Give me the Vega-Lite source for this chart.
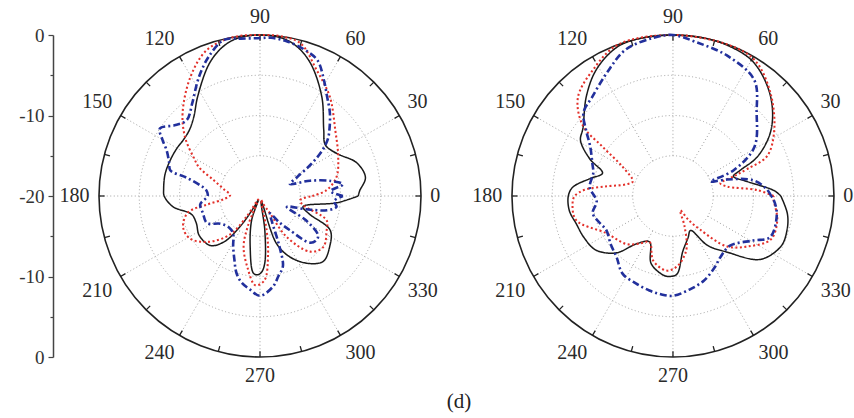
{
  "$schema": "https://vega.github.io/schema/vega-lite/v6.json",
  "width": 854,
  "height": 418,
  "autosize": {"type": "none"},
  "padding": 0,
  "background": "white",
  "config": {"view": {"stroke": null}, "font": "Liberation Serif"},
  "title": {"text": "(d)", "orient": "bottom", "anchor": "middle", "frame": "group", "offset": -27, "dx": 32, "font": "Liberation Serif", "fontSize": 21, "fontWeight": "normal", "color": "#222"},
  "datasets": {
    "rings": [{"p": "L", "ring": 0.25}, {"p": "L", "ring": 0.5}, {"p": "L", "ring": 0.75}, {"p": "L", "ring": 1}, {"p": "R", "ring": 0.25}, {"p": "R", "ring": 0.5}, {"p": "R", "ring": 0.75}, {"p": "R", "ring": 1}],
    "angles": [
      {"a": 0, "p": ["L", "R"]}, {"a": 15, "p": ["L", "R"]}, {"a": 30, "p": ["L", "R"]}, {"a": 45, "p": ["L", "R"]}, {"a": 60, "p": ["L", "R"]}, {"a": 75, "p": ["L", "R"]},
      {"a": 90, "p": ["L", "R"]}, {"a": 105, "p": ["L", "R"]}, {"a": 120, "p": ["L", "R"]}, {"a": 135, "p": ["L", "R"]}, {"a": 150, "p": ["L", "R"]}, {"a": 165, "p": ["L", "R"]},
      {"a": 180, "p": ["L", "R"]}, {"a": 195, "p": ["L", "R"]}, {"a": 210, "p": ["L", "R"]}, {"a": 225, "p": ["L", "R"]}, {"a": 240, "p": ["L", "R"]}, {"a": 255, "p": ["L", "R"]},
      {"a": 270, "p": ["L", "R"]}, {"a": 285, "p": ["L", "R"]}, {"a": 300, "p": ["L", "R"]}, {"a": 315, "p": ["L", "R"]}, {"a": 330, "p": ["L", "R"]}, {"a": 345, "p": ["L", "R"]}
    ],
    "curves": [
      {"p":"L","s":"k","a":0,"db":-7.8},{"p":"L","s":"k","a":3,"db":-7.6},{"p":"L","s":"k","a":10,"db":-6.7},{"p":"L","s":"k","a":19,"db":-7.3},{"p":"L","s":"k","a":29,"db":-9.1},{"p":"L","s":"k","a":38,"db":-9.7},{"p":"L","s":"k","a":46,"db":-8.6},{"p":"L","s":"k","a":58,"db":-5.5},{"p":"L","s":"k","a":69,"db":-2.4},{"p":"L","s":"k","a":76,"db":-0.9},{"p":"L","s":"k","a":82,"db":-0.2},{"p":"L","s":"k","a":90,"db":0},{"p":"L","s":"k","a":98,"db":-0.2},{"p":"L","s":"k","a":104,"db":-0.9},{"p":"L","s":"k","a":111,"db":-2.4},{"p":"L","s":"k","a":122,"db":-5.4},{"p":"L","s":"k","a":130,"db":-7.2},{"p":"L","s":"k","a":137,"db":-8.0},{"p":"L","s":"k","a":144,"db":-8.2},{"p":"L","s":"k","a":150,"db":-8.1},{"p":"L","s":"k","a":158,"db":-8.0},{"p":"L","s":"k","a":167,"db":-7.9},{"p":"L","s":"k","a":176,"db":-8.0},{"p":"L","s":"k","a":180,"db":-8.1},{"p":"L","s":"k","a":187,"db":-9.1},{"p":"L","s":"k","a":195,"db":-11.2},{"p":"L","s":"k","a":203,"db":-11.4},{"p":"L","s":"k","a":213,"db":-11.0},{"p":"L","s":"k","a":225,"db":-11.3},{"p":"L","s":"k","a":232,"db":-12.8},{"p":"L","s":"k","a":237,"db":-15.5},{"p":"L","s":"k","a":242,"db":-18.5},{"p":"L","s":"k","a":247,"db":-19.5},{"p":"L","s":"k","a":251,"db":-16.8},{"p":"L","s":"k","a":259,"db":-13.6},{"p":"L","s":"k","a":265,"db":-10.4},{"p":"L","s":"k","a":268,"db":-10.2},{"p":"L","s":"k","a":271,"db":-10.5},{"p":"L","s":"k","a":274,"db":-11.6},{"p":"L","s":"k","a":278,"db":-15.7},{"p":"L","s":"k","a":283,"db":-19.3},{"p":"L","s":"k","a":289,"db":-13.8},{"p":"L","s":"k","a":296,"db":-11.6},{"p":"L","s":"k","a":305,"db":-9.8},{"p":"L","s":"k","a":314,"db":-8.7},{"p":"L","s":"k","a":324,"db":-9.3},{"p":"L","s":"k","a":334,"db":-10.3},{"p":"L","s":"k","a":340,"db":-13.5},{"p":"L","s":"k","a":346,"db":-14.5},{"p":"L","s":"k","a":355,"db":-10.4},{"p":"L","s":"k","a":360,"db":-7.8},

      {"p":"L","s":"r","a":0,"db":-13.5},{"p":"L","s":"r","a":5,"db":-11.7},{"p":"L","s":"r","a":14,"db":-10.2},{"p":"L","s":"r","a":27,"db":-9.1},{"p":"L","s":"r","a":41,"db":-7.6},{"p":"L","s":"r","a":55,"db":-4.9},{"p":"L","s":"r","a":66,"db":-2.8},{"p":"L","s":"r","a":75,"db":-0.4},{"p":"L","s":"r","a":82,"db":0},{"p":"L","s":"r","a":90,"db":0},{"p":"L","s":"r","a":100,"db":0},{"p":"L","s":"r","a":110,"db":-0.7},{"p":"L","s":"r","a":120,"db":-2.8},{"p":"L","s":"r","a":133,"db":-5.9},{"p":"L","s":"r","a":142,"db":-8.2},{"p":"L","s":"r","a":150,"db":-10.5},{"p":"L","s":"r","a":155,"db":-11.7},{"p":"L","s":"r","a":161,"db":-13.9},{"p":"L","s":"r","a":170,"db":-15.5},{"p":"L","s":"r","a":178,"db":-16.3},{"p":"L","s":"r","a":185,"db":-15.5},{"p":"L","s":"r","a":189,"db":-13.5},{"p":"L","s":"r","a":193,"db":-10.8},{"p":"L","s":"r","a":202,"db":-9.7},{"p":"L","s":"r","a":211,"db":-9.8},{"p":"L","s":"r","a":221,"db":-11.3},{"p":"L","s":"r","a":232,"db":-13.9},{"p":"L","s":"r","a":237,"db":-17},{"p":"L","s":"r","a":243,"db":-19.5},{"p":"L","s":"r","a":248,"db":-16},{"p":"L","s":"r","a":252,"db":-13.4},{"p":"L","s":"r","a":260,"db":-11.0},{"p":"L","s":"r","a":267,"db":-8.9},{"p":"L","s":"r","a":273,"db":-9.5},{"p":"L","s":"r","a":278,"db":-12.8},{"p":"L","s":"r","a":281,"db":-15.7},{"p":"L","s":"r","a":286,"db":-19.5},{"p":"L","s":"r","a":292,"db":-19},{"p":"L","s":"r","a":300,"db":-17.5},{"p":"L","s":"r","a":303,"db":-14},{"p":"L","s":"r","a":312,"db":-10.7},{"p":"L","s":"r","a":321,"db":-9.9},{"p":"L","s":"r","a":333,"db":-10.7},{"p":"L","s":"r","a":340,"db":-11.2},{"p":"L","s":"r","a":348,"db":-14.5},{"p":"L","s":"r","a":354,"db":-15},{"p":"L","s":"r","a":360,"db":-13.5},

      {"p":"L","s":"b","a":0,"db":-9.7},{"p":"L","s":"b","a":4,"db":-11.2},{"p":"L","s":"b","a":8,"db":-9.6},{"p":"L","s":"b","a":12,"db":-11},{"p":"L","s":"b","a":17,"db":-13.5},{"p":"L","s":"b","a":22,"db":-16},{"p":"L","s":"b","a":27,"db":-14.8},{"p":"L","s":"b","a":32,"db":-12.5},{"p":"L","s":"b","a":36,"db":-10.5},{"p":"L","s":"b","a":40,"db":-9},{"p":"L","s":"b","a":44,"db":-8.0},{"p":"L","s":"b","a":50,"db":-6.5},{"p":"L","s":"b","a":56,"db":-5.1},{"p":"L","s":"b","a":61,"db":-3.6},{"p":"L","s":"b","a":67,"db":-1.7},{"p":"L","s":"b","a":73,"db":-1.0},{"p":"L","s":"b","a":80,"db":-0.5},{"p":"L","s":"b","a":86,"db":-0.3},{"p":"L","s":"b","a":91,"db":-0.4},{"p":"L","s":"b","a":97,"db":-0.3},{"p":"L","s":"b","a":103,"db":-0.1},{"p":"L","s":"b","a":110,"db":-1.5},{"p":"L","s":"b","a":115,"db":-2.8},{"p":"L","s":"b","a":119,"db":-3.9},{"p":"L","s":"b","a":126,"db":-5.7},{"p":"L","s":"b","a":134,"db":-6.9},{"p":"L","s":"b","a":140,"db":-6.3},{"p":"L","s":"b","a":146,"db":-5.0},{"p":"L","s":"b","a":150,"db":-6},{"p":"L","s":"b","a":154,"db":-7.1},{"p":"L","s":"b","a":160,"db":-8.0},{"p":"L","s":"b","a":164,"db":-8.4},{"p":"L","s":"b","a":166,"db":-10.6},{"p":"L","s":"b","a":170,"db":-12.5},{"p":"L","s":"b","a":174,"db":-13.3},{"p":"L","s":"b","a":180,"db":-13.5},{"p":"L","s":"b","a":188,"db":-12.5},{"p":"L","s":"b","a":197,"db":-12.6},{"p":"L","s":"b","a":207,"db":-12.6},{"p":"L","s":"b","a":215,"db":-14},{"p":"L","s":"b","a":225,"db":-14.5},{"p":"L","s":"b","a":234,"db":-14.3},{"p":"L","s":"b","a":242,"db":-12.9},{"p":"L","s":"b","a":248,"db":-11.5},{"p":"L","s":"b","a":253,"db":-10},{"p":"L","s":"b","a":258,"db":-9.0},{"p":"L","s":"b","a":264,"db":-8.3},{"p":"L","s":"b","a":270,"db":-7.6},{"p":"L","s":"b","a":278,"db":-8.6},{"p":"L","s":"b","a":283,"db":-9.8},{"p":"L","s":"b","a":288,"db":-10.8},{"p":"L","s":"b","a":291,"db":-13.2},{"p":"L","s":"b","a":295,"db":-16.5},{"p":"L","s":"b","a":300,"db":-17.5},{"p":"L","s":"b","a":306,"db":-16},{"p":"L","s":"b","a":311,"db":-14.4},{"p":"L","s":"b","a":317,"db":-11.5},{"p":"L","s":"b","a":322,"db":-11.1},{"p":"L","s":"b","a":326,"db":-11.3},{"p":"L","s":"b","a":332,"db":-13.5},{"p":"L","s":"b","a":338,"db":-16.4},{"p":"L","s":"b","a":344,"db":-14},{"p":"L","s":"b","a":348,"db":-11.5},{"p":"L","s":"b","a":352,"db":-10.4},{"p":"L","s":"b","a":356,"db":-10.8},{"p":"L","s":"b","a":360,"db":-9.7},

      {"p":"R","s":"k","a":0,"db":-6.6},{"p":"R","s":"k","a":3,"db":-7.4},{"p":"R","s":"k","a":11,"db":-10.6},{"p":"R","s":"k","a":18,"db":-12.1},{"p":"R","s":"k","a":21,"db":-11},{"p":"R","s":"k","a":25,"db":-8.4},{"p":"R","s":"k","a":34,"db":-5.3},{"p":"R","s":"k","a":46,"db":-2.6},{"p":"R","s":"k","a":59,"db":-0.6},{"p":"R","s":"k","a":70,"db":-0.1},{"p":"R","s":"k","a":80,"db":0},{"p":"R","s":"k","a":90,"db":0},{"p":"R","s":"k","a":100,"db":0},{"p":"R","s":"k","a":110,"db":-0.2},{"p":"R","s":"k","a":121,"db":-1.6},{"p":"R","s":"k","a":131,"db":-3.6},{"p":"R","s":"k","a":143,"db":-6.0},{"p":"R","s":"k","a":149,"db":-6.6},{"p":"R","s":"k","a":156,"db":-8.7},{"p":"R","s":"k","a":162,"db":-10.8},{"p":"R","s":"k","a":168,"db":-9.5},{"p":"R","s":"k","a":175,"db":-7.5},{"p":"R","s":"k","a":180,"db":-7.0},{"p":"R","s":"k","a":188,"db":-7.0},{"p":"R","s":"k","a":196,"db":-7.5},{"p":"R","s":"k","a":205,"db":-7.8},{"p":"R","s":"k","a":215,"db":-8.3},{"p":"R","s":"k","a":225,"db":-10},{"p":"R","s":"k","a":233,"db":-12.6},{"p":"R","s":"k","a":243,"db":-13.6},{"p":"R","s":"k","a":252,"db":-11.2},{"p":"R","s":"k","a":263,"db":-10.1},{"p":"R","s":"k","a":268,"db":-10},{"p":"R","s":"k","a":273,"db":-10.3},{"p":"R","s":"k","a":280,"db":-13},{"p":"R","s":"k","a":290,"db":-14.5},{"p":"R","s":"k","a":297,"db":-15.2},{"p":"R","s":"k","a":305,"db":-12.5},{"p":"R","s":"k","a":314,"db":-10.3},{"p":"R","s":"k","a":324,"db":-6.6},{"p":"R","s":"k","a":335,"db":-5.2},{"p":"R","s":"k","a":343,"db":-5.2},{"p":"R","s":"k","a":351,"db":-5.6},{"p":"R","s":"k","a":360,"db":-6.6},

      {"p":"R","s":"r","a":0,"db":-7.5},{"p":"R","s":"r","a":4,"db":-9.5},{"p":"R","s":"r","a":10,"db":-13.2},{"p":"R","s":"r","a":15,"db":-13.9},{"p":"R","s":"r","a":18,"db":-12},{"p":"R","s":"r","a":20,"db":-10.2},{"p":"R","s":"r","a":23,"db":-7.3},{"p":"R","s":"r","a":33,"db":-5},{"p":"R","s":"r","a":47,"db":-2.3},{"p":"R","s":"r","a":59,"db":-0.3},{"p":"R","s":"r","a":70,"db":0},{"p":"R","s":"r","a":90,"db":0},{"p":"R","s":"r","a":110,"db":0},{"p":"R","s":"r","a":122,"db":-1.4},{"p":"R","s":"r","a":134,"db":-3.0},{"p":"R","s":"r","a":142,"db":-5.8},{"p":"R","s":"r","a":145,"db":-9.3},{"p":"R","s":"r","a":150,"db":-12.8},{"p":"R","s":"r","a":160,"db":-14.7},{"p":"R","s":"r","a":166,"db":-14},{"p":"R","s":"r","a":172,"db":-11.5},{"p":"R","s":"r","a":176,"db":-9},{"p":"R","s":"r","a":180,"db":-7.8},{"p":"R","s":"r","a":184,"db":-7.5},{"p":"R","s":"r","a":194,"db":-7.6},{"p":"R","s":"r","a":209,"db":-10.5},{"p":"R","s":"r","a":226,"db":-11.7},{"p":"R","s":"r","a":235,"db":-12.8},{"p":"R","s":"r","a":243,"db":-13.6},{"p":"R","s":"r","a":253,"db":-11.6},{"p":"R","s":"r","a":265,"db":-10.7},{"p":"R","s":"r","a":273,"db":-11.2},{"p":"R","s":"r","a":280,"db":-12.3},{"p":"R","s":"r","a":285,"db":-13.4},{"p":"R","s":"r","a":291,"db":-16},{"p":"R","s":"r","a":297,"db":-18},{"p":"R","s":"r","a":303,"db":-16.5},{"p":"R","s":"r","a":309,"db":-14.6},{"p":"R","s":"r","a":317,"db":-10.8},{"p":"R","s":"r","a":326,"db":-8.8},{"p":"R","s":"r","a":336,"db":-6.7},{"p":"R","s":"r","a":347,"db":-6.7},{"p":"R","s":"r","a":358,"db":-7.5},{"p":"R","s":"r","a":360,"db":-7.5},

      {"p":"R","s":"b","a":0,"db":-7.8},{"p":"R","s":"b","a":4,"db":-8.3},{"p":"R","s":"b","a":11,"db":-9.8},{"p":"R","s":"b","a":17,"db":-13},{"p":"R","s":"b","a":21,"db":-15},{"p":"R","s":"b","a":23,"db":-11.8},{"p":"R","s":"b","a":31,"db":-8.2},{"p":"R","s":"b","a":45,"db":-5.3},{"p":"R","s":"b","a":55,"db":-2.4},{"p":"R","s":"b","a":69,"db":-1.3},{"p":"R","s":"b","a":81,"db":-0.7},{"p":"R","s":"b","a":90,"db":0},{"p":"R","s":"b","a":97,"db":-0.2},{"p":"R","s":"b","a":108,"db":-0.9},{"p":"R","s":"b","a":118,"db":-2.6},{"p":"R","s":"b","a":129,"db":-4.1},{"p":"R","s":"b","a":137,"db":-4.8},{"p":"R","s":"b","a":143,"db":-6.5},{"p":"R","s":"b","a":149,"db":-8},{"p":"R","s":"b","a":158,"db":-9.2},{"p":"R","s":"b","a":164,"db":-9.7},{"p":"R","s":"b","a":174,"db":-9.6},{"p":"R","s":"b","a":184,"db":-10.5},{"p":"R","s":"b","a":192,"db":-9.8},{"p":"R","s":"b","a":200,"db":-10.3},{"p":"R","s":"b","a":207,"db":-10.7},{"p":"R","s":"b","a":218,"db":-10.2},{"p":"R","s":"b","a":227,"db":-9.7},{"p":"R","s":"b","a":237,"db":-8.5},{"p":"R","s":"b","a":247,"db":-8.2},{"p":"R","s":"b","a":256,"db":-7.9},{"p":"R","s":"b","a":263,"db":-7.7},{"p":"R","s":"b","a":270,"db":-7.6},{"p":"R","s":"b","a":280,"db":-8.2},{"p":"R","s":"b","a":290,"db":-8.8},{"p":"R","s":"b","a":300,"db":-9.7},{"p":"R","s":"b","a":308,"db":-10.4},{"p":"R","s":"b","a":319,"db":-10.6},{"p":"R","s":"b","a":331,"db":-8.6},{"p":"R","s":"b","a":337,"db":-6.9},{"p":"R","s":"b","a":350,"db":-6.9},{"p":"R","s":"b","a":358,"db":-7.5},{"p":"R","s":"b","a":360,"db":-7.8}
    ]
  },
  "encoding": {
    "x": {"field": "x", "type": "quantitative", "scale": {"domain": [-1, 1], "range": [99, 421], "nice": false, "zero": false}, "axis": null},
    "y": {"field": "y", "type": "quantitative", "scale": {"domain": [-1, 1], "range": [357, 35], "nice": false, "zero": false},
      "axis": {"title": null, "offset": -53, "grid": false, "values": [-1, -0.75, -0.5, -0.25, 0, 0.25, 0.5, 0.75, 1],
        "labelExpr": "abs(datum.value*4)%2==1 ? '' : toString(20*abs(datum.value)-20)",
        "domainColor": "#444", "domainWidth": 1.5, "tickColor": "#444", "tickWidth": 1.2,
        "tickSize": {"condition": {"test": "abs(datum.value*4)%2==1", "value": 3}, "value": 5},
        "labelFont": "Liberation Serif", "labelFontSize": 19, "labelColor": "#333", "labelPadding": 4, "labelFlush": false, "labelOverlap": false}}
  },
  "layer": [
    {
      "data": {"name": "rings"},
      "transform": [{"filter": "datum.ring < 1"}, {"calculate": "datum.p == 'R' ? 2.565 : 0", "as": "x"}, {"calculate": "0", "as": "y"}],
      "mark": {"type": "point", "shape": "circle", "filled": false, "stroke": "#a0a0a0", "strokeWidth": 1, "strokeDash": [1, 2.5], "opacity": 1},
      "encoding": {"size": {"field": "ring", "type": "quantitative", "scale": {"type": "pow", "exponent": 2, "domain": [0, 1], "range": [0, 103684]}, "legend": null}}
    },
    {
      "data": {"name": "angles"},
      "transform": [{"flatten": ["p"]}, {"filter": "datum.a % 30 == 0"},
        {"calculate": "datum.p == 'R' ? 2.565 : 0", "as": "cx"},
        {"calculate": "datum.cx + 0.25*cos(datum.a*PI/180)", "as": "x"},
        {"calculate": "0.25*sin(datum.a*PI/180)", "as": "y"},
        {"calculate": "datum.cx + cos(datum.a*PI/180)", "as": "x2"},
        {"calculate": "sin(datum.a*PI/180)", "as": "y2"}],
      "mark": {"type": "rule", "stroke": "#a0a0a0", "strokeWidth": 1, "strokeDash": [1, 2.5]},
      "encoding": {"x2": {"field": "x2"}, "y2": {"field": "y2"}}
    },
    {
      "data": {"name": "rings"},
      "transform": [{"filter": "datum.ring == 1"}, {"calculate": "datum.p == 'R' ? 2.565 : 0", "as": "x"}, {"calculate": "0", "as": "y"}],
      "mark": {"type": "point", "shape": "circle", "filled": false, "stroke": "#222", "strokeWidth": 1.6, "opacity": 1},
      "encoding": {"size": {"field": "ring", "type": "quantitative", "scale": {"type": "pow", "exponent": 2, "domain": [0, 1], "range": [0, 103684]}, "legend": null}}
    },
    {
      "data": {"name": "angles"},
      "transform": [{"flatten": ["p"]},
        {"calculate": "datum.p == 'R' ? 2.565 : 0", "as": "cx"},
        {"calculate": "datum.cx + 0.965*cos(datum.a*PI/180)", "as": "x"},
        {"calculate": "0.965*sin(datum.a*PI/180)", "as": "y"},
        {"calculate": "datum.cx + cos(datum.a*PI/180)", "as": "x2"},
        {"calculate": "sin(datum.a*PI/180)", "as": "y2"}],
      "mark": {"type": "rule", "stroke": "#222", "strokeWidth": 1.3},
      "encoding": {"x2": {"field": "x2"}, "y2": {"field": "y2"}}
    },
    {
      "data": {"name": "curves"},
      "transform": [
        {"calculate": "datum.p == 'R' ? 2.565 : 0", "as": "cx"},
        {"calculate": "max(0, (datum.db + 20) / 20)", "as": "rr"},
        {"calculate": "datum.cx + datum.rr*cos(datum.a*PI/180)", "as": "x"},
        {"calculate": "datum.rr*sin(datum.a*PI/180)", "as": "y"}],
      "mark": {"type": "line", "interpolate": "catmull-rom"},
      "encoding": {
        "color": {"field": "s", "type": "nominal", "scale": {"domain": ["k", "r", "b"], "range": ["#1a1a1a", "#e3302a", "#22309c"]}, "legend": null},
        "strokeDash": {"field": "s", "type": "nominal", "scale": {"domain": ["k", "r", "b"], "range": [[1, 0], [2, 2.5], [7, 3, 2, 3]]}, "legend": null},
        "strokeWidth": {"field": "s", "type": "nominal", "scale": {"domain": ["k", "r", "b"], "range": [1.5, 2.6, 2.2]}, "legend": null},
        "detail": {"field": "p"},
        "order": {"value": null}
      }
    },
    {
      "data": {"name": "angles"},
      "transform": [{"flatten": ["p"]}, {"filter": "datum.a % 30 == 0"},
        {"calculate": "datum.p == 'R' ? 2.565 : 0", "as": "cx"},
        {"calculate": "toString(datum.a)", "as": "lab"},
        {"calculate": "round(cos(datum.a*PI/180)*1000)/1000", "as": "c"},
        {"calculate": "round(sin(datum.a*PI/180)*1000)/1000", "as": "sn"},
        {"calculate": "datum.cx + (170*datum.c + (datum.c > 0 ? 1 : (datum.c < 0 ? -1 : 0))*5.2*length(datum.lab))/161", "as": "x"},
        {"calculate": "(170*datum.sn + (datum.sn > 0 ? 1 : (datum.sn < 0 ? -1 : 0))*9.5)/161", "as": "y"}],
      "mark": {"type": "text", "font": "Liberation Serif", "fontSize": 20, "color": "#2a2a2a", "align": "center", "baseline": "middle"},
      "encoding": {"text": {"field": "lab"}}
    }
  ]
}
